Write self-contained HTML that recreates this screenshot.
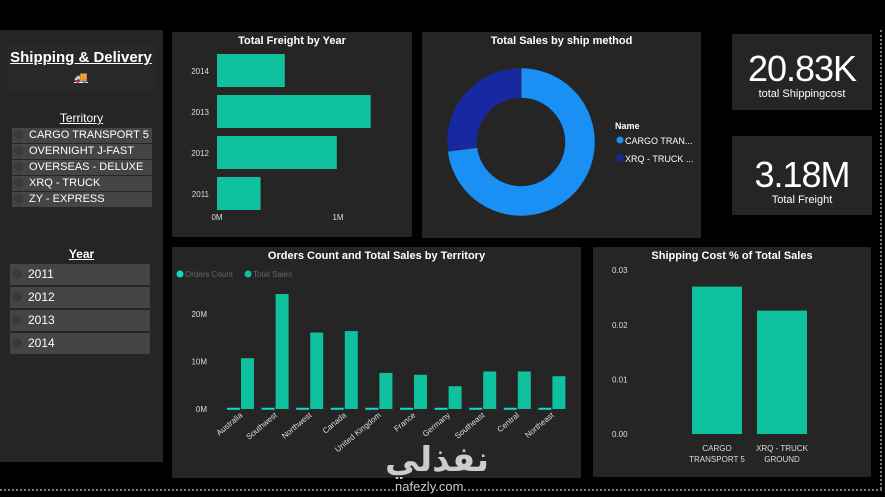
<!DOCTYPE html>
<html><head><meta charset="utf-8"><style>
body{margin:0;width:885px;height:497px;background:#000;overflow:hidden;font-family:"Liberation Sans","DejaVu Sans",sans-serif;position:relative;color:#fff}
.p{position:absolute;background:#252525}
.t{position:absolute;font-weight:bold;font-size:11px;width:100%;text-align:center;top:3px}
.slicer{position:absolute;left:12px;width:140px;height:15px;background:#454545;font-size:11px;line-height:15px;color:#fff}
.slicer span{display:inline-block;width:10px;height:10px;border-radius:50%;background:#3a3a3a;margin:0 5px 0 2px;vertical-align:-2px}
.yr{position:absolute;left:10px;width:140px;height:21px;background:#454545;font-size:12px;line-height:21px}
.yr span{display:inline-block;width:10px;height:10px;border-radius:50%;background:#3a3a3a;margin:0 6px 0 2px;vertical-align:-1px}
svg text{font-family:"Liberation Sans",sans-serif}
</style></head><body>
<div class="p" style="left:0;top:30px;width:163px;height:432px">
 <div style="position:absolute;left:8px;top:14px;width:146px;height:50px;background:#282828;text-align:center;font-weight:bold;font-size:15px;line-height:28px;text-decoration:underline">Shipping &amp; Delivery<div style="font-size:11px;line-height:12px;text-decoration:none">🚚</div></div>
 <div style="position:absolute;top:81px;width:100%;text-align:center;font-size:12px;text-decoration:underline">Territory</div>
 <div class="slicer" style="top:98px"><span></span>CARGO TRANSPORT 5</div>
 <div class="slicer" style="top:114px"><span></span>OVERNIGHT J-FAST</div>
 <div class="slicer" style="top:130px"><span></span>OVERSEAS - DELUXE</div>
 <div class="slicer" style="top:146px"><span></span>XRQ - TRUCK GROUND</div>
 <div class="slicer" style="top:162px"><span></span>ZY - EXPRESS</div>
 <div style="position:absolute;top:217px;width:100%;text-align:center;font-size:12px;font-weight:bold;text-decoration:underline">Year</div>
 <div class="yr" style="top:234px"><span></span>2011</div>
 <div class="yr" style="top:257px"><span></span>2012</div>
 <div class="yr" style="top:280px"><span></span>2013</div>
 <div class="yr" style="top:303px"><span></span>2014</div>
</div>

<div class="p" style="left:172px;top:32px;width:240px;height:205px">
 <div class="t">Total Freight by Year</div>
</div>
<div class="p" style="left:422px;top:32px;width:279px;height:206px">
 <div class="t">Total Sales by ship method</div>
</div>
<div class="p" style="left:732px;top:34px;width:140px;height:76px;text-align:center">
 <div style="font-size:36px;margin-top:16px;line-height:38px;letter-spacing:-1px">20.83K</div>
 <div style="font-size:11px">total Shippingcost</div>
</div>
<div class="p" style="left:732px;top:136px;width:140px;height:79px;text-align:center">
 <div style="font-size:36px;margin-top:20px;line-height:38px;letter-spacing:-1px">3.18M</div>
 <div style="font-size:11px">Total Freight</div>
</div>
<div class="p" style="left:172px;top:247px;width:409px;height:231px">
 <div class="t">Orders Count and Total Sales by Territory</div>
</div>
<div class="p" style="left:593px;top:247px;width:278px;height:230px">
 <div class="t">Shipping Cost % of Total Sales</div>
</div>
<div style="position:absolute;left:880px;top:30px;width:0;height:459px;border-left:2px dotted #777"></div>
<div style="position:absolute;left:0;top:489px;width:882px;height:0;border-top:2px dotted #777"></div>

<svg id="s" width="885" height="497" style="position:absolute;left:0;top:0"></svg>
<div style="position:absolute;left:385px;top:440px;font-size:34px;font-weight:bold;color:#ccc;font-family:'DejaVu Sans',sans-serif;line-height:40px">نفذلي</div>
<div style="position:absolute;left:395px;top:479px;font-size:13px;color:#ccc;background:#000;line-height:16px">nafezly.com</div>

<script>
const freightYears=['2014','2013','2012','2011'];
const freightValues=[0.56,1.27,0.99,0.36];
const methodNames=['CARGO TRAN...','XRQ - TRUCK ...'];
const methodShares=[73,27];
const territories=['Australia','Southwest','Northwest','Canada','United Kingdom','France','Germany','Southeast','Central','Northeast'];
const salesValues=[10.7,24.2,16.1,16.4,7.6,7.2,4.8,7.9,7.9,6.9];
const orderValues=[0.05,0.05,0.05,0.05,0.05,0.05,0.05,0.05,0.05,0.05];
const salesTicks=[0,10,20];
const pctCats=[['CARGO','TRANSPORT 5'],['XRQ - TRUCK','GROUND']];
const pctValues=[0.027,0.0226];
const pctTicks=[0,0.01,0.02,0.03];

const s=document.getElementById('s');const NS='http://www.w3.org/2000/svg';
function mk(t,a,txt){const e=document.createElementNS(NS,t);for(const k in a)e.setAttribute(k,a[k]);if(txt!==undefined)e.textContent=txt;s.appendChild(e);return e;}
const G='#0fc19e';
const fx=v=>217+v*121;
freightYears.forEach((y,i)=>{const y0=54+i*41;
 const b=mk('rect',{x:217,y:y0,width:fx(freightValues[i])-217,height:33,fill:G});
 
 
 const l=mk('text',{x:209,y:y0+20,'font-size':8,fill:'#ddd','text-anchor':'end'},y);
 
 });
[0,1].forEach(v=>{const l=mk('text',{x:fx(v),y:220,'font-size':8,fill:'#ddd','text-anchor':'middle'},v+'M');
 
 });
const cx=521,cy=142,R=74,r=44;const cols=['#1a90f5','#1828a0'];
let tot=methodShares.reduce((a,b)=>a+b,0),ang=0;
methodShares.forEach((v,i)=>{const a0=ang,a1=ang+v/tot*2*Math.PI;ang=a1;
 const p=(a,rad)=>[cx+rad*Math.sin(a),cy-rad*Math.cos(a)];const L=(a1-a0)>Math.PI?1:0;
 const [x0,y0]=p(a0,R),[x1,y1]=p(a1,R),[x2,y2]=p(a1,r),[x3,y3]=p(a0,r);
 const e=mk('path',{d:`M${x0},${y0}A${R},${R} 0 ${L} 1 ${x1},${y1}L${x2},${y2}A${r},${r} 0 ${L} 0 ${x3},${y3}Z`,fill:cols[i],stroke:'#252525','stroke-width':0.5});
 
 
 const d=mk('circle',{cx:620,cy:140+i*18,r:3.5,fill:cols[i]});
 
 
 const t=mk('text',{x:625,y:144+i*18,'font-size':9,fill:'#fff'},methodNames[i]);
 
 });
const nm=mk('text',{x:615,y:129,'font-size':9,'font-weight':'bold',fill:'#fff'},'Name');


const ty=v=>409-v*4.75;
salesTicks.forEach(v=>{const l=mk('text',{x:207,y:ty(v)+3,'font-size':8,fill:'#ddd','text-anchor':'end'},v+'M');
 
 });
territories.forEach((t,i)=>{const x=227+i*34.6;
 const o=mk('rect',{x:x,y:ty(orderValues[i])-1,width:13,height:Math.max(1,409-ty(orderValues[i]))+1,fill:'#13d8c8'});
 
 
 const b=mk('rect',{x:x+14,y:ty(salesValues[i]),width:13,height:409-ty(salesValues[i]),fill:G});
 
 
 const l=mk('text',{x:x+16,y:416,'font-size':8,fill:'#ddd','text-anchor':'end',transform:`rotate(-40 ${x+16} 416)`},t);
 
 });
[['#13d8c8','Orders Count',180],['#0fc19e','Total Sales',248]].forEach(([c,n,x])=>{
 const d=mk('circle',{cx:x,cy:274,r:3.5,fill:c});
 
 
 const t=mk('text',{x:x+5,y:277,'font-size':8,fill:'#666'},n);
 
 });
const py=v=>434-v*5460;
pctTicks.forEach(v=>{const l=mk('text',{x:612,y:py(v)+3,'font-size':8,fill:'#ddd'},v.toFixed(2));
 
 });
pctValues.forEach((v,i)=>{const x=692+i*65;
 const b=mk('rect',{x:x,y:py(v),width:50,height:434-py(v),fill:G});
 
 
 pctCats[i].forEach((ln,j)=>{const l=mk('text',{x:x+25,y:451+j*11,'font-size':8,fill:'#ddd','text-anchor':'middle'},ln);
  
  });});
</script>
</body></html>
